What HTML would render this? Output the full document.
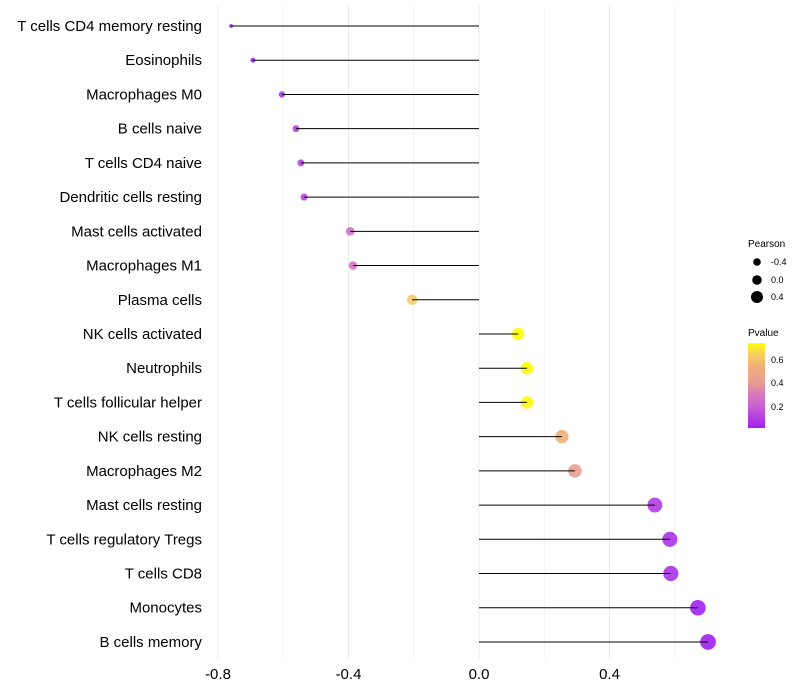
<!DOCTYPE html>
<html><head><meta charset="utf-8"><style>
body{margin:0;background:#fff;font-family:"Liberation Sans",sans-serif}
svg{display:block}
</style></head><body>
<svg id="chart" width="800" height="700">
<defs>
<linearGradient id="pg" x1="0" y1="1" x2="0" y2="0">
<stop offset="0" stop-color="#A020F0"/>
<stop offset="0.25" stop-color="#C860D0"/>
<stop offset="0.39" stop-color="#D878B8"/>
<stop offset="0.55" stop-color="#E8A090"/>
<stop offset="0.73" stop-color="#F0B078"/>
<stop offset="0.87" stop-color="#F8D060"/>
<stop offset="1" stop-color="#FFFF00"/>
</linearGradient>
</defs>
<g id="grid"></g><g id="points"></g><g id="marks"></g><g id="labels"></g>
<g font-size="9" fill="#000">
<text x="748" y="247" font-size="10">Pearson</text>
<circle cx="757" cy="262" r="3.8"/><text x="771" y="265">-0.4</text>
<circle cx="757" cy="280" r="4.8"/><text x="771" y="283">0.0</text>
<circle cx="757" cy="297" r="6"/><text x="771" y="300">0.4</text>
</g>
<g font-size="9" fill="#000">
<text x="748" y="336" font-size="10">Pvalue</text>
<rect x="748" y="343" width="17" height="85" fill="url(#pg)"/>
<text x="771" y="363">0.6</text><text x="771" y="386">0.4</text><text x="771" y="410">0.2</text>
</g>
</svg>
<script>
const cells=["T cells CD4 memory resting","Eosinophils","Macrophages M0","B cells naive","T cells CD4 naive","Dendritic cells resting","Mast cells activated","Macrophages M1","Plasma cells","NK cells activated","Neutrophils","T cells follicular helper","NK cells resting","Macrophages M2","Mast cells resting","T cells regulatory  Tregs","T cells CD8","Monocytes","B cells memory"];
const pearson=[-0.76,-0.693,-0.604,-0.561,-0.546,-0.536,-0.395,-0.386,-0.205,0.12,0.147,0.147,0.254,0.294,0.539,0.585,0.588,0.671,0.702];
const pvalue=[0.03,0.04,0.08,0.1,0.12,0.12,0.27,0.28,0.63,0.74,0.73,0.73,0.55,0.42,0.1,0.07,0.07,0.03,0.02];
const xTicks=[-0.8,-0.4,0.0,0.4];
const xTickLabels=["-0.8","-0.4","0.0","0.4"];
const minorTicks=[-0.6,-0.2,0.2,0.6];
const NS="http://www.w3.org/2000/svg";
const x=v=>479+v*326.25;
const y=i=>26+i*34.22;
const r=v=>Math.sqrt(Math.max(2,34+40*v));
function lerp(a,b,t){return a.map((c,k)=>Math.round(c+(b[k]-c)*t));}
const stops=[[0.02,[160,32,240]],[0.2,[200,96,208]],[0.3,[216,120,184]],[0.42,[232,160,144]],[0.55,[240,176,120]],[0.65,[248,208,96]],[0.745,[255,255,0]]];
function col(p){if(p<=stops[0][0])return `rgb(${stops[0][1]})`;for(let k=1;k<stops.length;k++){if(p<=stops[k][0]){const t=(p-stops[k-1][0])/(stops[k][0]-stops[k-1][0]);return `rgb(${lerp(stops[k-1][1],stops[k][1],t)})`;}}return "rgb(255,255,0)";}
function mk(tag,at,parent){const e=document.createElementNS(NS,tag);for(const k in at)e.setAttribute(k,at[k]);document.getElementById(parent).appendChild(e);return e;}
xTicks.forEach((v,i)=>{
 const g=mk("line",{x1:x(v),x2:x(v),y1:5,y2:660,stroke:"#ebebeb","stroke-width":1},"grid");
 
 
 const t=mk("text",{x:x(v),y:679,"text-anchor":"middle","font-size":15,fill:"#000"},"labels");
 t.textContent=xTickLabels[i];
 
 
});
minorTicks.forEach(v=>{
 const g=mk("line",{x1:x(v),x2:x(v),y1:5,y2:660,stroke:"#f4f4f4","stroke-width":1},"grid");
 
 
});
cells.forEach((c,i)=>{
 const t=mk("text",{x:202,y:y(i)+5,"text-anchor":"end","font-size":15,fill:"#000"},"labels");
 t.textContent=c;
 
 
 const d=mk("circle",{cx:x(pearson[i]),cy:y(i),r:r(pearson[i]),fill:col(pvalue[i]),"fill-opacity":0.9},"points");
 
 
 const l=mk("line",{x1:x(0),x2:x(pearson[i]),y1:y(i),y2:y(i),stroke:"#000","stroke-width":1},"marks");
 
 
});
</script>
</body></html>
